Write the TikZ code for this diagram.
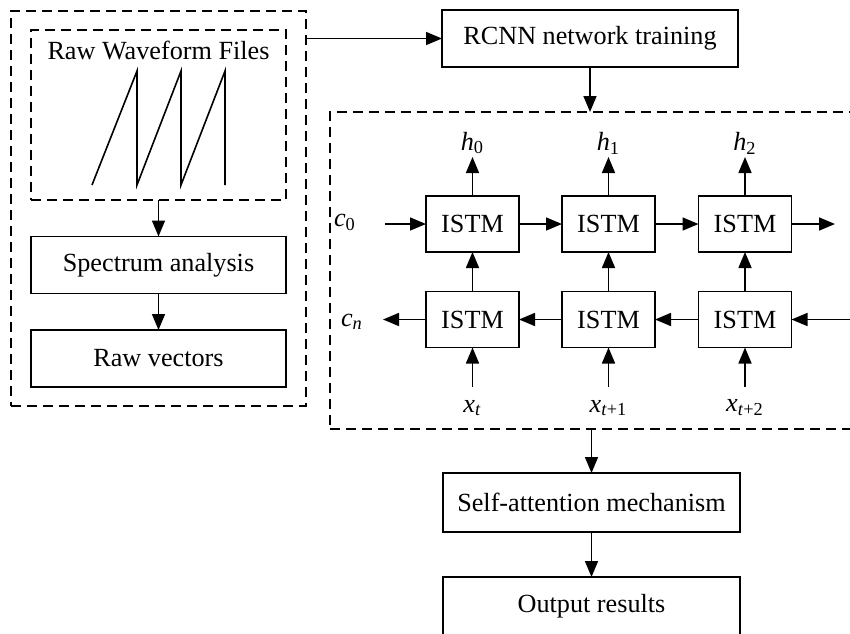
\documentclass[tikz,border=0pt]{standalone}
\usepackage{fontspec}
\setmainfont{Liberation Serif}
\usepackage{tikz}
\usetikzlibrary{arrows.meta,calc}

\tikzset{
	box/.style={draw,line width=0.8pt,minimum width=127.5pt,minimum height=28.5pt,inner sep=0pt,outer sep=0pt},
	dbox/.style={draw,line width=0.8pt,dash pattern=on 5pt off 3pt,inner sep=0pt,outer sep=0pt},
	lstm/.style={draw,line width=0.8pt,minimum width=46.5pt,minimum height=28pt,inner sep=0pt,outer sep=0pt},
	arr/.style={line width=0.8pt,-{Triangle[length=8pt,width=6.5pt]}},
	lbl/.style={inner sep=0pt}
}

\begin{document}
\begin{tikzpicture}[x=0.5pt,y=-0.5pt,font=\fontsize{13.1}{15}\selectfont]
				\useasboundingbox (0,0) rectangle (850,633);

				\node[dbox,minimum width=147.5pt,minimum height=197.5pt] (outer) at (158.5,208.5) {};
				\node[dbox,minimum width=127.5pt,minimum height=85pt] (wave) at (158.5,115) {};
				\node[lbl] (wavetitle) at (158.5,50) {Raw Waveform Files};
				\draw[line width=0.8pt] (92,185)--(137,71)--(137,185)--(181,71)--(181,185)--(225,71)--(225,185);

				\node[box] (spec) at (158.5,265) {Spectrum analysis};
				\node[box] (rawvec) at (158.5,358.5) {Raw vectors};
				\draw[arr] (wave.south) -- (spec.north);
				\draw[arr] (spec.south) -- (rawvec.north);

				\node[box,minimum width=148pt] (rcnn) at (590,38.5) {RCNN network training};
				\draw[arr] (outer.east |- rcnn.west) -- (rcnn.west);

				\node[dbox,minimum width=265pt,minimum height=158.5pt] (net) at (595,270.5) {};
				\draw[arr] (rcnn.south) -- (rcnn.south |- net.north);

				\node[lstm] (t1) at (472.5,224) {ISTM};
				\node[lstm] (t2) at (608.5,224) {ISTM};
				\node[lstm] (t3) at (745,224) {ISTM};
				\node[lstm] (b1) at (472.5,319.5) {ISTM};
				\node[lstm] (b2) at (608.5,319.5) {ISTM};
				\node[lstm] (b3) at (745,319.5) {ISTM};

				\node[lbl] (c0) at (345,222) {\textit{c}\textsubscript{0}};
				\node[lbl] (cn) at (352,322) {\textit{c}\textsubscript{\textit{n}}};
				\coordinate (c0e) at (385,224);
				\coordinate (outtop) at (835,224);
				\coordinate (inbot) at (852,319.5);
				\coordinate (cnw) at (383,319.5);

				\draw[arr] (c0e) -- (t1.west);
				\draw[arr] (t1.east) -- (t2.west);
				\draw[arr] (t2.east) -- (t3.west);
				\draw[arr] (t3.east) -- (outtop);
				\draw[arr] (inbot) -- (b3.east);
				\draw[arr] (b3.west) -- (b2.east);
				\draw[arr] (b2.west) -- (b1.east);
				\draw[arr] (b1.west) -- (cnw);

				\node[lbl] (h0) at (472.5,143) {\textit{h}\textsubscript{0}};
				\node[lbl] (h1) at (608.5,143) {\textit{h}\textsubscript{1}};
				\node[lbl] (h2) at (745,143) {\textit{h}\textsubscript{2}};
				\node[lbl] (x0) at (472.5,408) {\textit{x}\textsubscript{\textit{t}}};
				\node[lbl] (x1) at (608.5,408) {\textit{x}\textsubscript{\textit{t}+1}};
				\node[lbl] (x2) at (745,408) {\textit{x}\textsubscript{\textit{t}+2}};

				\foreach \i in {1,2,3} {
					\draw[arr] (b\i.north) -- (t\i.south);
					\draw[arr] (t\i.north) -- ++(0,-39);
					\draw[arr] ($(b\i.south)+(0,39)$) -- (b\i.south);
				}

				\node[box,minimum width=148.5pt,minimum height=29.5pt] (attn) at (591.5,502.5) {Self-attention mechanism};
				\node[box,minimum width=148.5pt,minimum height=29.5pt] (output) at (591.5,606.5) {Output results};
				\draw[arr] (attn.north |- net.south) -- (attn.north);
				\draw[arr] (attn.south) -- (output.north);
			\end{tikzpicture}
\end{document}
